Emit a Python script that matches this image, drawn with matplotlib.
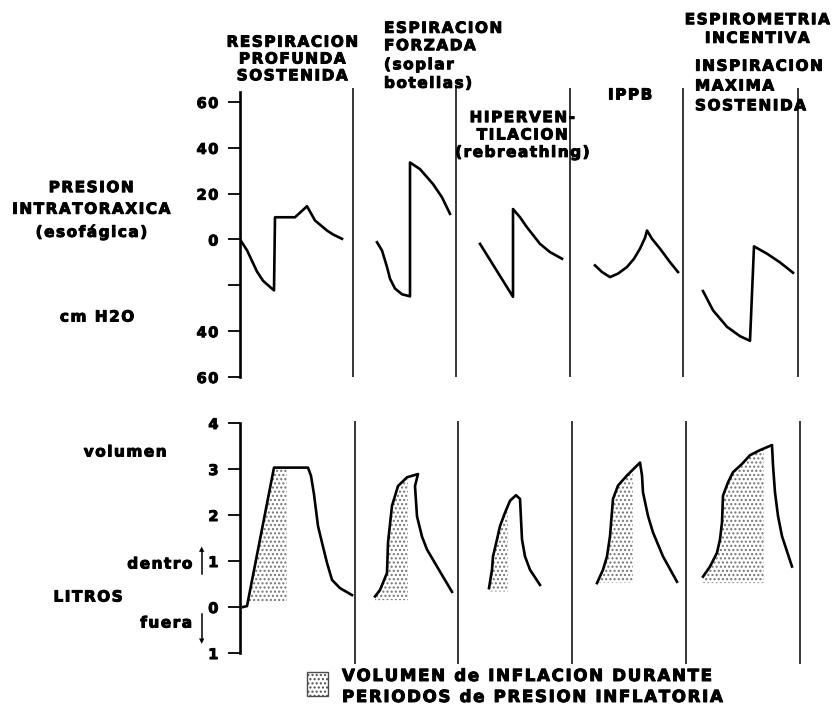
import matplotlib
matplotlib.use('Agg')
import matplotlib.pyplot as plt
import matplotlib.patheffects as pe
from matplotlib.patches import Rectangle
import numpy as np

plt.rcParams['font.family'] = ['DejaVu Sans']
plt.rcParams['font.weight'] = 'bold'

W, H = 835, 710

# upper panel: presion intratoraxica (cm H2O), time in arbitrary units
p1_t = [0.0, 0.7, 1.7, 2.3, 3.0, 3.4, 3.5, 5.5, 6.7, 7.5, 8.7, 9.3, 10.2]
p1_p = [0, -4.7, -14, -18, -20.7, -22.2, 9.7, 9.7, 14.5, 8.3, 3.9, 2.2, 0.3]
p2_t = [13.7, 14.2, 14.7, 15.0, 15.5, 16.2, 17.0, 17.0, 18.0, 19.3, 20.2, 21.0]
p2_p = [-1.2, -4.8, -12.0, -17.1, -21.4, -23.9, -24.8, 33.6, 30.7, 24.2, 18.4, 11.2]
p3_t = [24.0, 27.3, 27.3, 28.0, 28.7, 30.0, 31.0, 32.2]
p3_p = [-1.9, -25.0, 13.3, 9.7, 5.3, -1.9, -5.5, -8.4]
p4_t = [35.5, 36.2, 37.0, 37.8, 38.7, 39.4, 40.0, 40.5, 40.7, 41.2, 42.0, 43.0, 43.8]
p4_p = [-11.3, -14.2, -16.4, -14.9, -12.0, -8.4, -4.0, 0.7, 3.9, 0.3, -4.0, -9.9, -14.2]
p5_t = [46.3, 47.3, 48.7, 50.0, 51.0, 51.4, 52.7, 54.0, 55.3]
p5_p = [-22.5, -30.9, -38.1, -42.2, -44.2, -3.0, -6.2, -10.0, -14.5]

# lower panel: volumen (litros)
v1_t = [0.3, 0.7, 3.4, 6.8, 7.1, 7.4, 7.8, 8.2, 8.7, 9.2, 10.0, 11.2]
v1_v = [0.0, 0.02, 3.03, 3.03, 2.85, 2.45, 1.76, 1.40, 0.96, 0.59, 0.41, 0.26]
v2_t = [13.5, 14.0, 14.7, 14.8, 15.2, 15.8, 16.7, 17.8, 17.5, 17.7, 18.2, 18.7, 20.0, 21.2]
v2_v = [0.23, 0.37, 0.74, 1.40, 2.20, 2.63, 2.82, 2.89, 2.63, 1.97, 1.53, 1.25, 0.77, 0.33]
v3_t = [24.9, 25.2, 25.3, 25.7, 26.0, 26.5, 27.0, 27.6, 28.0, 28.2, 28.5, 29.0, 30.0]
v3_v = [0.41, 0.81, 1.10, 1.47, 1.76, 2.05, 2.31, 2.43, 2.35, 1.47, 1.10, 0.81, 0.48]
v4_t = [35.7, 36.3, 36.7, 37.0, 37.3, 37.8, 38.7, 40.0, 40.2, 40.3, 40.8, 41.3, 42.3, 43.7]
v4_v = [0.52, 0.81, 1.10, 1.54, 2.35, 2.64, 2.86, 3.14, 2.86, 2.49, 1.98, 1.62, 1.10, 0.55]
v5_t = [46.3, 47.0, 47.7, 48.0, 48.2, 48.3, 48.8, 49.3, 50.2, 51.0, 52.0, 53.2,
        53.3, 53.5, 53.8, 54.2, 55.2]
v5_v = [0.66, 0.88, 1.18, 1.47, 1.84, 2.42, 2.71, 2.93, 3.11, 3.30, 3.41, 3.52,
        3.08, 2.49, 1.98, 1.54, 0.88]

# inflation periods (shaded): end time and base volume of each stippled area
shade_end = [4.7, 16.8, 26.8, 39.3, 52.4]
shade_base = [0.12, 0.15, 0.34, 0.53, 0.52]

p_ticks = [60, 40, 20, 0, -20, -40, -60]
p_labels = ['60', '40', '20', '0', '', '40', '60']
v_ticks = [4, 3, 2, 1, 0, -1]
v_labels = ['4', '3', '2', '1', '0', '1']

sep_p = [11.3, 21.6, 33.0, 44.3, 55.8]
sep_v = [11.5, 21.8, 33.2, 44.6, 56.0]

fig = plt.figure(figsize=(W / 100, H / 100), dpi=100)
heavy = [pe.withStroke(linewidth=0.7, foreground='black')]


def box(x0, y0, x1, y1):
    return [x0 / W, 1 - y1 / H, (x1 - x0) / W, (y1 - y0) / H]


def spaced(s, n=1):
    # wide letter spacing like the original lettering
    gap = '\u200a' * n
    return '\n'.join(gap.join(line) for line in s.split('\n'))


def txt(x, y, s, n=1, **kw):
    kw.setdefault('fontsize', 11)
    kw.setdefault('fontweight', 'bold')
    kw.setdefault('va', 'center')
    fig.text(x / W, 1 - y / H, spaced(s, n), path_effects=heavy, **kw)


def style(ax, ticks, labels, lo, hi):
    for s in ['top', 'right', 'bottom']:
        ax.spines[s].set_visible(False)
    ax.spines['left'].set_linewidth(1.9)
    ax.spines['left'].set_bounds(lo, hi)
    ax.set_xticks([])
    ax.set_yticks(ticks)
    ax.set_yticklabels([spaced(l) for l in labels], fontsize=10.5, fontweight='bold')
    for lab in ax.get_yticklabels():
        lab.set_path_effects(heavy)
    ax.tick_params(axis='y', length=8.5, width=1.3, pad=7)
    ax.patch.set_alpha(0)


# --- pressure panel
ax_p = fig.add_axes(box(240, 88, 810, 377))
ax_p.set_xlim(0, 57)
ax_p.set_ylim(-60, 66.1)
style(ax_p, p_ticks, p_labels, -60, 64.3)
ax_p.vlines(sep_p, -60, 66.1, color='black', lw=1.1)
for t, p in [(p1_t, p1_p), (p2_t, p2_p), (p3_t, p3_p), (p4_t, p4_p), (p5_t, p5_p)]:
    ax_p.plot(t, p, color='black', lw=1.9, solid_joinstyle='round')

# --- volume panel
ax_v = fig.add_axes(box(240, 420, 810, 665))
ax_v.set_xlim(0, 57)
ax_v.set_ylim(-1.26, 4.065)
style(ax_v, v_ticks, v_labels, -1, 4)
ax_v.vlines(sep_v, -1.24, 4.04, color='black', lw=1.1)
curves = [(v1_t, v1_v), (v2_t, v2_v), (v3_t, v3_v), (v4_t, v4_v), (v5_t, v5_v)]
for (t, v), te, vb in zip(curves, shade_end, shade_base):
    ax_v.plot(t, v, color='black', lw=1.9, solid_joinstyle='round')
    k = int(np.argmax(v))
    tr, vr = np.array(t[:k + 1]), np.array(v[:k + 1])
    tg = np.linspace(tr[0], te, 200)
    vg = np.interp(tg, tr, vr)
    ax_v.fill_between(tg, vb, vg, where=vg >= vb, interpolate=True,
                      facecolor='none', edgecolor='0.45', hatch='....', linewidth=0)

# --- column titles
txt(292, 59, 'RESPIRACION\nPROFUNDA\nSOSTENIDA', ha='center', multialignment='center',
    linespacing=1.15)
txt(384, 37, 'ESPIRACION\nFORZADA', ha='left', linespacing=1.2)
txt(384, 74, '(soplar\nbotellas)', ha='left', linespacing=1.3)
txt(522, 135, 'HIPERVEN-\nTILACION\n(rebreathing)', ha='center', multialignment='center',
    linespacing=1.2)
txt(630, 95, 'IPPB', ha='center')
txt(757, 29, 'ESPIROMETRIA\nINCENTIVA', ha='center', multialignment='center',
    linespacing=1.3)
txt(695, 86, 'INSPIRACION\nMAXIMA\nSOSTENIDA', ha='left', linespacing=1.4)

# --- axis annotations
txt(91, 210, 'PRESION\nINTRATORAXICA\n(esofágica)', ha='center', multialignment='center',
    linespacing=1.55)
txt(97, 317, 'cm H2O', ha='center')
txt(125, 452, 'volumen', ha='center')
txt(192, 564, 'dentro', ha='right')
txt(88, 597, 'LITROS', ha='center')
txt(192, 623, 'fuera', ha='right')
fig.add_artist(plt.Line2D([202 / W, 202 / W], [1 - 574 / H, 1 - 550 / H], color='black', lw=1.1))
fig.text(202 / W, 1 - 549 / H, '▲', ha='center', va='center', fontsize=5)
fig.add_artist(plt.Line2D([202 / W, 202 / W], [1 - 614 / H, 1 - 639 / H], color='black', lw=1.1))
fig.text(202 / W, 1 - 641 / H, '▼', ha='center', va='center', fontsize=5)

# --- legend
fig.add_artist(Rectangle((307 / W, 1 - 696 / H), 21 / W, 24 / H, transform=fig.transFigure,
                         facecolor='white', edgecolor='0.3', hatch='....', lw=1))
txt(342, 676, 'VOLUMEN de INFLACION DURANTE', ha='left', fontsize=12)
txt(342, 697, 'PERIODOS de PRESION INFLATORIA', ha='left', fontsize=12)

fig.savefig('out.png', dpi=100, facecolor='white')
